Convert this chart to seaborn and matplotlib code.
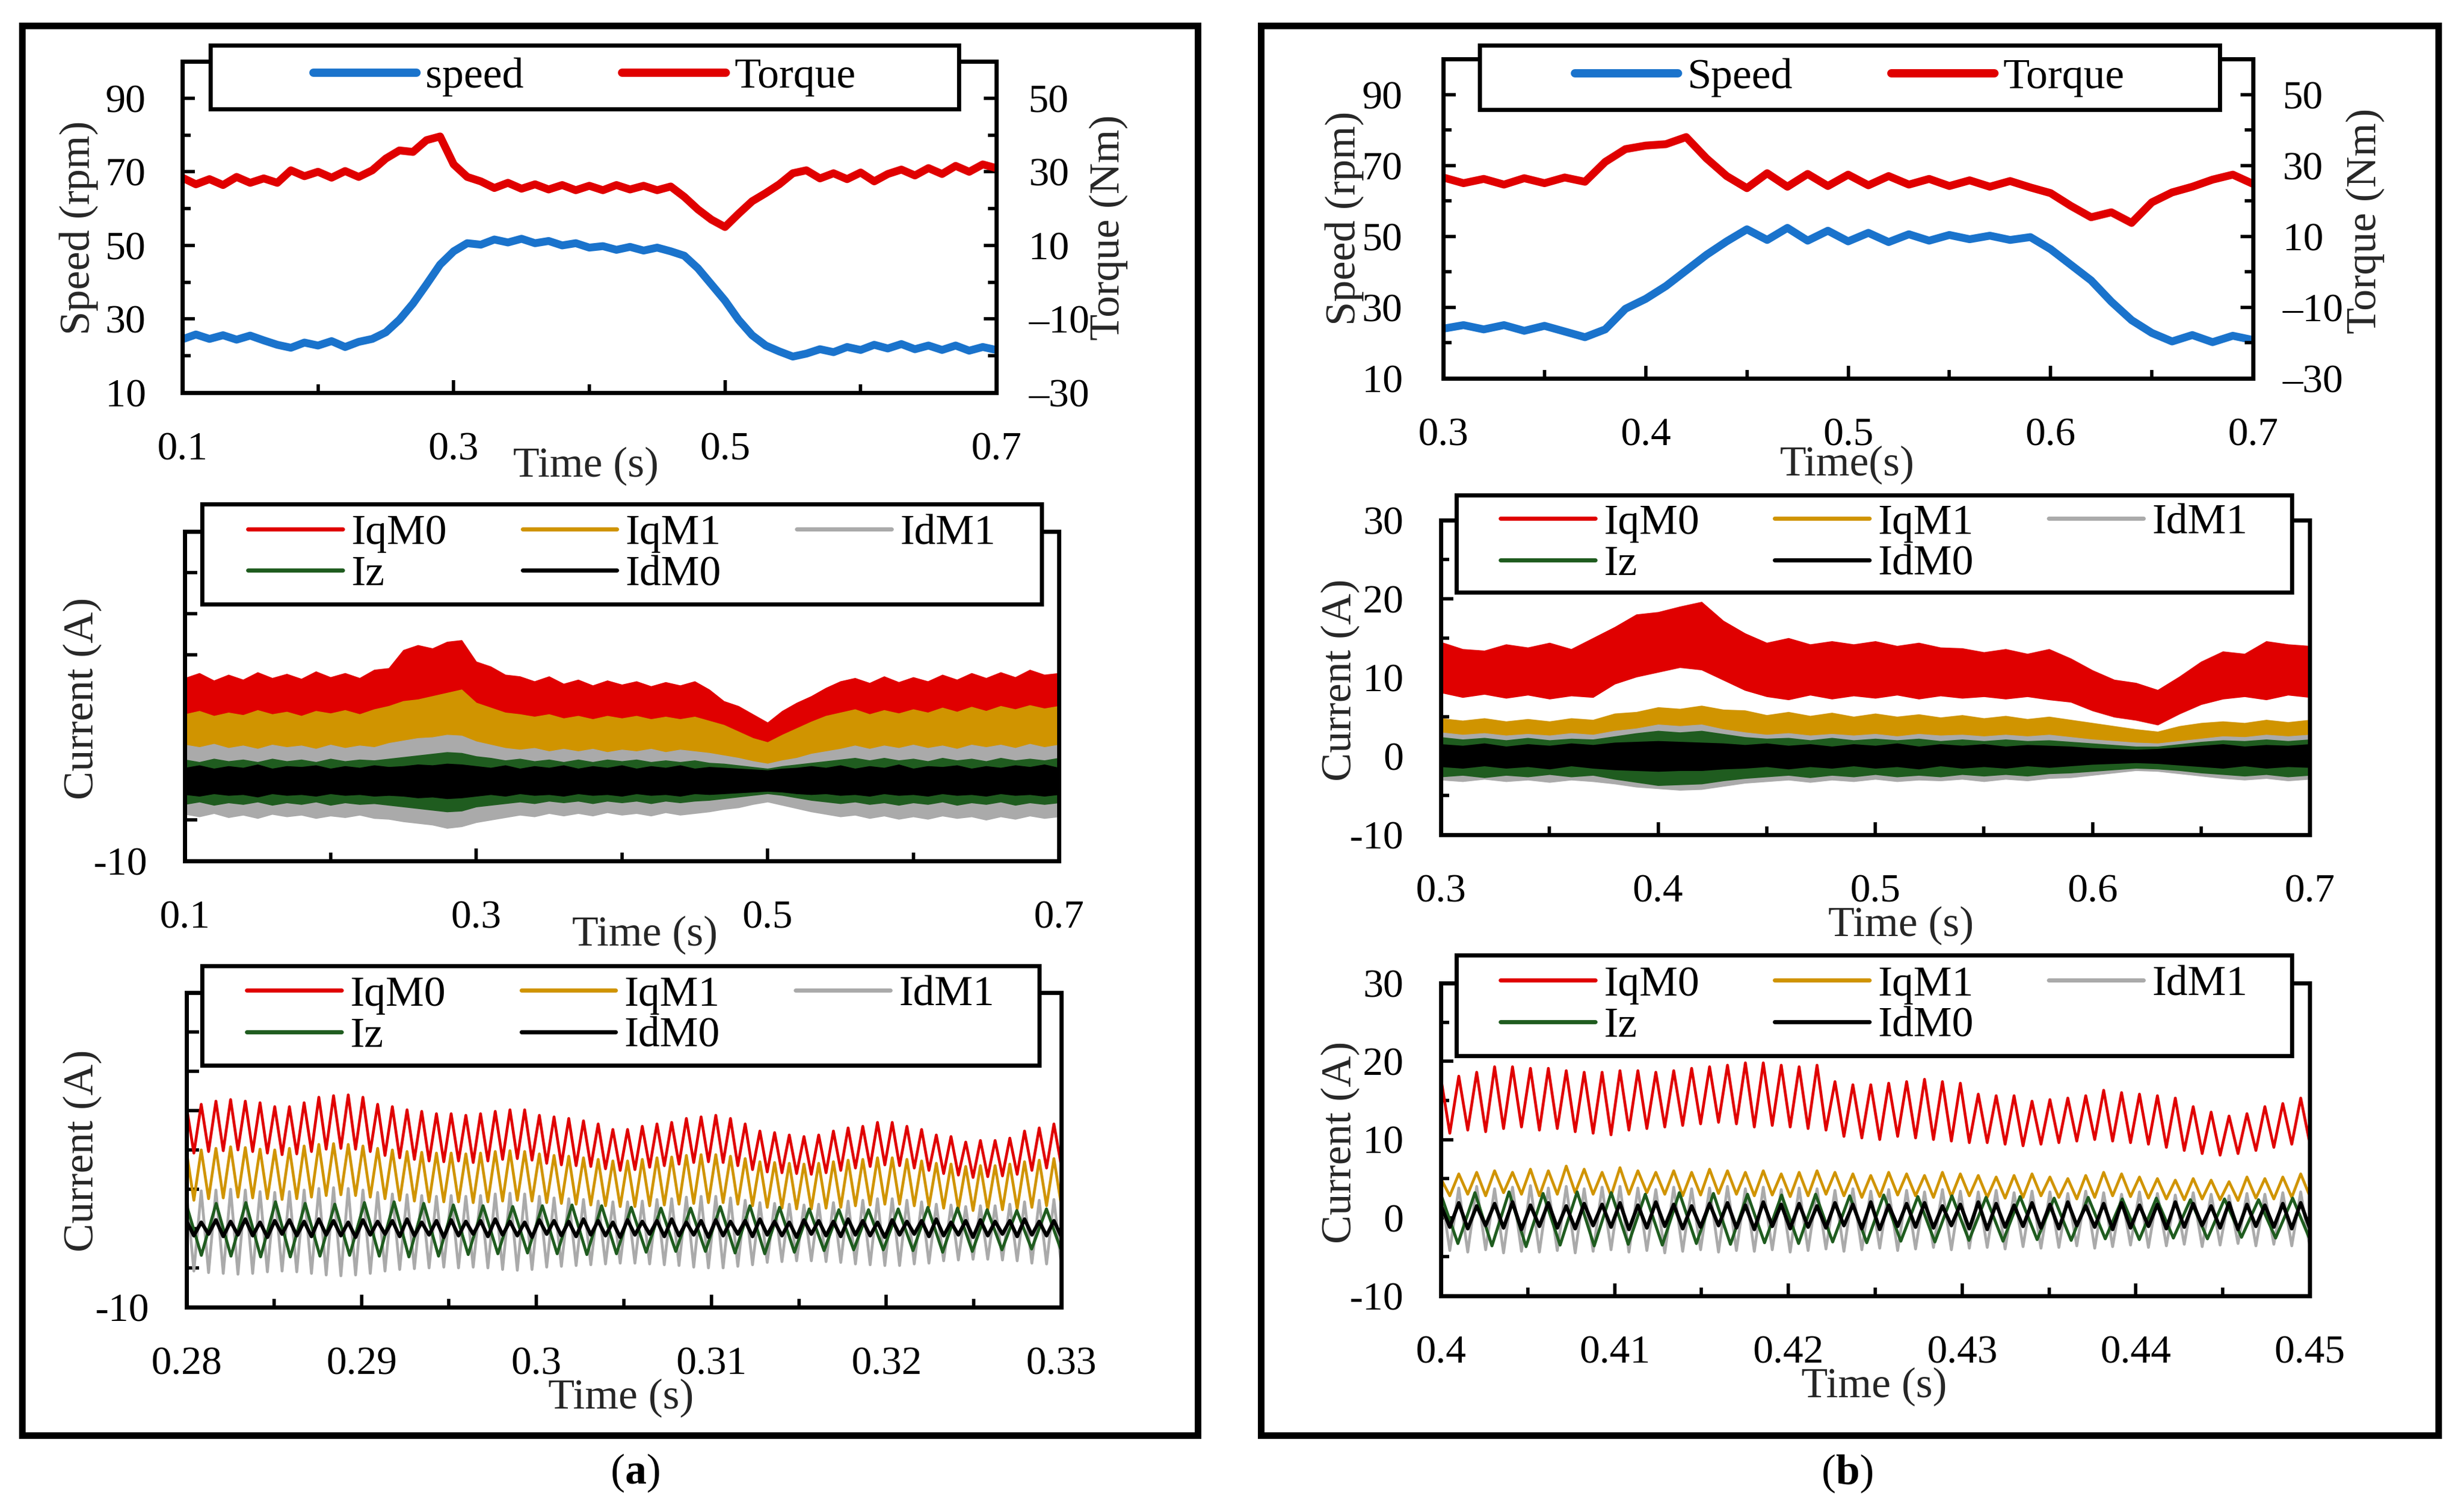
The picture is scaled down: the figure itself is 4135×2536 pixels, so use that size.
#!/usr/bin/env python3
"""
Speed / torque and current waveforms for two operating cases, (a) and (b).
"""

import numpy as np
import matplotlib
matplotlib.use("Agg")
import matplotlib.pyplot as plt
import seaborn as sns
from matplotlib.lines import Line2D
from matplotlib.patches import Rectangle

# ---------------------------------------------------------------- data
# top panels, sampled every 0.01 s
T_A = np.linspace(0.10, 0.70, 61)
T_B = np.linspace(0.30, 0.70, 41)

speed_a = [24.5, 25.8, 24.6, 25.6, 24.4, 25.5, 24.2, 23.0, 22.2, 23.6,
           22.8, 24.0, 22.4, 23.8, 24.6, 26.4, 29.8, 34.2, 39.4, 44.8,
           48.4, 50.6, 50.2, 51.6, 50.8, 51.8, 50.6, 51.2, 50.0, 50.6,
           49.4, 49.8, 48.8, 49.6, 48.6, 49.4, 48.4, 47.2, 43.8, 39.4,
           35.0, 29.8, 25.6, 22.8, 21.2, 19.8, 20.6, 21.8, 21.0, 22.4,
           21.6, 23.0, 22.0, 23.2, 21.8, 22.8, 21.6, 22.8, 21.4, 22.4,
           21.6]
torque_a = [28.4, 26.6, 28.0, 26.4, 28.6, 27.0, 28.2, 27.0, 30.4, 28.8,
            30.0, 28.4, 30.2, 28.6, 30.4, 33.6, 35.8, 35.4, 38.6, 39.6,
            32.0, 28.6, 27.4, 25.6, 27.0, 25.4, 26.6, 25.2, 26.4, 25.0,
            26.2, 25.0, 26.4, 25.2, 26.2, 25.0, 26.0, 23.2, 19.8, 17.0,
            15.0, 18.6, 22.0, 24.2, 26.6, 29.6, 30.4, 28.2, 29.6, 28.0,
            29.8, 27.4, 29.4, 30.6, 29.0, 31.0, 29.4, 31.6, 30.0, 32.0,
            31.0]
speed_b = [24.0, 25.0, 23.8, 25.0, 23.4, 24.8, 23.2, 21.6, 23.8, 29.6,
           32.4, 36.0, 40.4, 44.8, 48.6, 52.0, 49.0, 52.4, 48.8, 51.6,
           48.6, 51.0, 48.4, 50.6, 48.8, 50.4, 49.2, 50.2, 49.0, 49.8,
           46.4, 42.0, 37.6, 31.6, 26.4, 22.8, 20.4, 22.2, 20.2, 22.0,
           20.8]
torque_b = [26.6, 25.0, 26.2, 24.6, 26.4, 25.0, 26.6, 25.4, 31.0, 34.6,
            35.6, 36.0, 38.0, 32.0, 27.0, 23.6, 27.8, 24.0, 27.6, 24.2,
            27.4, 24.4, 27.0, 24.6, 26.2, 24.2, 25.8, 24.0, 25.6, 23.8,
            22.2, 18.6, 15.4, 16.8, 13.8, 19.6, 22.4, 24.0, 26.0, 27.4,
            24.8]

# middle panels: envelopes (upper / lower) of the fast current ripple
iqm0_up_a = [12.2, 12.8, 11.9, 12.6, 12.0, 12.9, 12.2, 12.7, 12.1, 13.0,
             12.3, 12.8, 12.2, 13.2, 13.4, 15.6, 16.2, 15.8, 16.6, 16.8,
             14.2, 13.6, 12.6, 12.4, 11.8, 12.4, 11.5, 12.0, 11.3, 11.9,
             11.4, 11.8, 11.2, 11.7, 11.3, 11.8, 10.8, 9.4, 8.8, 7.8,
             6.8, 8.2, 9.2, 10.0, 11.0, 11.8, 12.2, 11.6, 12.4, 11.7,
             12.3, 11.8, 12.6, 12.0, 12.8, 12.2, 12.9, 12.3, 13.2, 12.6,
             12.8]
iqm1_up_a = [7.8, 8.2, 7.6, 8.0, 7.7, 8.3, 7.8, 8.1, 7.6, 8.2,
             7.9, 8.3, 7.8, 8.4, 8.8, 9.4, 9.6, 10.0, 10.4, 10.8,
             9.2, 8.6, 8.0, 7.8, 7.5, 7.8, 7.3, 7.6, 7.2, 7.6,
             7.3, 7.6, 7.2, 7.5, 7.2, 7.5, 7.0, 6.5, 5.7, 4.9,
             4.4, 5.3, 6.1, 6.9, 7.6, 8.0, 8.4, 7.8, 8.3, 7.9,
             8.4, 8.0, 8.6, 8.1, 8.7, 8.2, 8.8, 8.4, 8.9, 8.5,
             8.8]
idm1_up_a = [4.1, 3.8, 4.2, 3.7, 4.0, 3.6, 4.1, 3.8, 4.0, 3.6,
             4.1, 3.7, 4.0, 3.8, 4.3, 4.6, 4.9, 5.0, 5.3, 5.2,
             4.5, 4.1, 3.7, 3.5, 3.7, 3.3, 3.6, 3.3, 3.6, 3.2,
             3.5, 3.3, 3.6, 3.2, 3.5, 3.3, 3.1, 2.8, 2.5, 2.1,
             1.8, 2.2, 2.5, 3.0, 3.3, 3.6, 4.0, 3.6, 4.0, 3.7,
             4.1, 3.7, 4.0, 3.6, 4.1, 3.8, 4.1, 3.7, 4.2, 3.8,
             4.1]
idm1_lo_a = [-4.3, -4.6, -4.2, -4.7, -4.4, -4.8, -4.3, -4.6, -4.4, -4.8,
             -4.5, -4.7, -4.4, -4.8, -4.9, -5.2, -5.4, -5.6, -6.0, -5.8,
             -5.3, -5.0, -4.7, -4.4, -4.6, -4.2, -4.5, -4.2, -4.5, -4.1,
             -4.4, -4.2, -4.5, -4.1, -4.4, -4.2, -4.0, -3.7, -3.5, -3.1,
             -2.8, -3.2, -3.6, -4.0, -4.3, -4.6, -4.4, -4.8, -4.5, -4.9,
             -4.6, -4.9, -4.5, -4.8, -4.6, -5.0, -4.6, -4.9, -4.5, -4.8,
             -4.6]
iz_up_a = [2.3, 2.0, 2.4, 2.1, 2.3, 2.0, 2.4, 2.1, 2.3, 2.0,
           2.4, 2.1, 2.3, 2.2, 2.4, 2.6, 2.8, 3.0, 3.2, 3.1,
           2.7, 2.5, 2.2, 2.4, 2.1, 2.3, 2.0, 2.3, 2.0, 2.3,
           2.1, 2.3, 2.0, 2.2, 2.0, 2.2, 1.9, 1.8, 1.6, 1.4,
           1.2, 1.5, 1.7, 1.9, 2.1, 2.3, 2.5, 2.2, 2.5, 2.2,
           2.4, 2.1, 2.5, 2.2, 2.4, 2.1, 2.5, 2.2, 2.4, 2.2,
           2.5]
iz_lo_a = [-3.1, -2.8, -3.2, -2.9, -3.1, -2.8, -3.2, -2.9, -3.1, -2.8,
           -3.2, -2.9, -3.1, -3.0, -3.2, -3.4, -3.6, -3.8, -4.0, -3.9,
           -3.4, -3.2, -3.0, -2.8, -3.0, -2.7, -2.9, -2.7, -3.0, -2.7,
           -2.9, -2.7, -3.0, -2.7, -2.9, -2.7, -2.6, -2.4, -2.2, -2.0,
           -1.8, -2.0, -2.3, -2.6, -2.8, -3.0, -2.8, -3.1, -2.9, -3.2,
           -2.9, -3.1, -2.8, -3.2, -2.9, -3.1, -2.8, -3.2, -2.9, -3.1,
           -2.9]
idm0_up_a = [1.3, 1.6, 1.2, 1.5, 1.3, 1.7, 1.2, 1.5, 1.4, 1.6,
             1.2, 1.5, 1.3, 1.6, 1.4, 1.5, 1.7, 1.6, 1.8, 1.7,
             1.5, 1.3, 1.6, 1.2, 1.5, 1.3, 1.6, 1.2, 1.5, 1.3,
             1.6, 1.2, 1.5, 1.3, 1.6, 1.2, 1.4, 1.3, 1.2, 1.1,
             1.0, 1.2, 1.3, 1.5, 1.3, 1.6, 1.2, 1.5, 1.3, 1.7,
             1.2, 1.5, 1.4, 1.6, 1.2, 1.5, 1.3, 1.6, 1.4, 1.7,
             1.3]
idm0_lo_a = [-1.9, -2.1, -1.8, -2.0, -1.9, -2.2, -1.8, -2.0, -1.9, -2.1,
             -1.8, -2.0, -1.9, -2.1, -2.0, -2.1, -2.3, -2.2, -2.4, -2.3,
             -2.1, -1.9, -2.1, -1.8, -2.0, -1.9, -2.1, -1.8, -2.0, -1.9,
             -2.1, -1.8, -2.0, -1.9, -2.1, -1.8, -1.9, -1.8, -1.7, -1.6,
             -1.5, -1.6, -1.8, -1.9, -1.8, -2.0, -1.9, -2.1, -1.8, -2.0,
             -1.9, -2.1, -1.8, -2.0, -1.9, -2.1, -1.8, -2.0, -1.9, -2.1,
             -1.9]

iqm0_up_b = [14.5, 13.6, 13.4, 14.2, 13.8, 14.4, 13.6, 15.0, 16.4, 18.0,
             18.3, 19.0, 19.6, 17.2, 15.6, 14.4, 15.0, 14.2, 14.6, 14.2,
             14.6, 14.0, 14.4, 13.8, 13.7, 13.2, 13.6, 13.0, 13.6, 12.4,
             10.9, 9.7, 9.3, 8.4, 10.1, 12.0, 13.3, 13.0, 14.6, 14.2,
             14.0]
iqm0_lo_b = [8.1, 7.5, 7.9, 7.4, 7.8, 7.3, 7.7, 7.5, 9.2, 10.1,
             10.7, 11.3, 11.0, 9.7, 8.4, 7.6, 7.2, 7.8, 7.3, 7.7,
             7.4, 7.8, 7.3, 7.7, 7.4, 7.6, 7.3, 7.6, 7.2, 6.9,
             5.8, 5.0, 4.6, 4.0, 5.4, 6.6, 7.3, 7.6, 7.2, 7.8,
             7.5]
iqm1_up_b = [4.8, 4.5, 4.8, 4.4, 4.7, 4.4, 4.8, 4.6, 5.4, 5.6,
             6.2, 6.0, 6.4, 5.9, 5.8, 5.2, 5.6, 5.1, 5.5, 5.0,
             5.4, 5.0, 5.3, 4.9, 5.2, 4.8, 5.1, 4.7, 5.0, 4.6,
             4.2, 3.8, 3.4, 3.1, 3.8, 4.2, 4.4, 4.2, 4.6, 4.3,
             4.6]
idm1_up_b = [3.0, 2.7, 2.9, 2.6, 2.8, 2.6, 2.9, 2.7, 3.2, 3.5,
             4.0, 3.8, 4.0, 3.4, 3.0, 2.7, 2.9, 2.6, 2.8, 2.6,
             2.8, 2.5, 2.8, 2.6, 2.7, 2.5, 2.7, 2.5, 2.7, 2.4,
             2.1, 1.9, 1.7, 1.6, 1.9, 2.2, 2.5, 2.4, 2.7, 2.5,
             2.7]
idm1_lo_b = [-3.0, -3.2, -2.9, -3.2, -3.0, -3.3, -3.0, -3.2, -3.5, -3.9,
             -4.1, -4.3, -4.2, -3.8, -3.4, -3.2, -3.0, -3.3, -3.0, -3.2,
             -2.9, -3.2, -3.0, -3.1, -2.9, -3.2, -2.9, -3.1, -2.8, -2.7,
             -2.4, -2.1, -1.8, -1.9, -2.2, -2.5, -2.8, -3.0, -2.8, -3.1,
             -2.9]
iz_up_b = [2.4, 2.1, 2.3, 2.0, 2.3, 2.0, 2.2, 2.1, 2.5, 2.9,
           3.2, 3.0, 3.2, 2.8, 2.4, 2.2, 2.3, 2.0, 2.3, 2.0,
           2.2, 2.0, 2.2, 1.9, 2.1, 1.9, 2.1, 1.9, 2.0, 1.8,
           1.6, 1.4, 1.2, 1.2, 1.5, 1.8, 2.0, 1.9, 2.1, 1.9,
           2.1]
iz_lo_b = [-2.6, -2.4, -2.7, -2.4, -2.6, -2.3, -2.6, -2.4, -2.9, -3.3,
           -3.7, -3.6, -3.5, -3.1, -2.8, -2.6, -2.4, -2.7, -2.4, -2.6,
           -2.3, -2.6, -2.4, -2.6, -2.3, -2.5, -2.3, -2.5, -2.2, -2.1,
           -1.9, -1.7, -1.5, -1.6, -1.8, -2.1, -2.3, -2.5, -2.3, -2.6,
           -2.4]
idm0_up_b = [1.5, 1.3, 1.6, 1.2, 1.5, 1.3, 1.6, 1.4, 1.7, 1.8,
             1.9, 1.8, 1.7, 1.6, 1.4, 1.6, 1.3, 1.5, 1.2, 1.5,
             1.3, 1.6, 1.2, 1.5, 1.3, 1.5, 1.2, 1.4, 1.3, 1.2,
             1.0, 0.9, 0.8, 0.9, 1.1, 1.3, 1.5, 1.2, 1.4, 1.3,
             1.5]
idm0_lo_b = [-1.3, -1.5, -1.2, -1.5, -1.3, -1.6, -1.2, -1.5, -1.7, -1.8,
             -1.9, -1.8, -1.8, -1.6, -1.5, -1.3, -1.6, -1.3, -1.5, -1.2,
             -1.5, -1.3, -1.6, -1.2, -1.5, -1.3, -1.5, -1.2, -1.4, -1.2,
             -1.0, -0.9, -0.8, -0.9, -1.1, -1.3, -1.5, -1.2, -1.5, -1.3,
             -1.4]

# bottom panels: peak and trough of every ripple cycle
pk_iqm0_a = [15.5, 15.8, 16.2, 16.4, 16.2, 16.0, 15.5, 15.5, 16.0, 16.7,
             16.9, 17.0, 16.7, 15.8, 15.5, 15.1, 14.9, 14.6, 14.6, 14.4,
             14.6, 14.9, 15.1, 15.1, 14.4, 14.2, 14.0, 13.7, 13.3, 12.6,
             12.6, 13.0, 13.3, 13.5, 14.0, 14.2, 14.4, 14.0, 13.3, 12.4,
             12.2, 11.9, 11.7, 11.9, 12.4, 12.8, 13.0, 13.5, 13.5, 13.0,
             12.6, 11.9, 11.7, 11.0, 11.2, 11.2, 11.5, 12.4, 12.8, 13.3]
tr_iqm0_a = [9.6, 9.8, 9.9, 10.0, 9.8, 9.6, 9.4, 9.5, 9.8, 10.1,
             10.2, 10.1, 9.8, 9.3, 9.0, 8.8, 8.6, 8.5, 8.6, 8.4,
             8.6, 8.8, 8.9, 8.7, 8.3, 8.1, 8.0, 7.9, 7.6, 7.4,
             7.5, 7.8, 8.0, 8.2, 8.4, 8.5, 8.4, 8.0, 7.5, 7.2,
             7.1, 7.0, 6.9, 7.1, 7.4, 7.7, 7.9, 8.1, 8.0, 7.7,
             7.4, 7.0, 6.8, 6.5, 6.6, 6.7, 6.9, 7.4, 7.7, 8.0]
pk_iqm1_a = [9.8, 10.0, 10.2, 10.4, 10.3, 10.1, 10.0, 10.2, 10.5, 10.7,
             10.8, 10.7, 10.5, 10.2, 10.0, 9.8, 9.7, 9.6, 9.6, 9.5,
             9.6, 9.8, 9.9, 9.8, 9.5, 9.3, 9.2, 9.0, 8.8, 8.6,
             8.6, 8.8, 9.0, 9.1, 9.3, 9.4, 9.4, 9.2, 8.9, 8.5,
             8.4, 8.3, 8.2, 8.3, 8.5, 8.7, 8.8, 9.0, 9.0, 8.8,
             8.6, 8.3, 8.2, 7.9, 8.0, 8.0, 8.2, 8.5, 8.7, 8.9]
tr_iqm1_a = [3.6, 3.8, 3.9, 4.0, 3.9, 3.8, 3.7, 3.8, 4.0, 4.2,
             4.3, 4.2, 4.0, 3.8, 3.6, 3.5, 3.4, 3.4, 3.4, 3.3,
             3.4, 3.5, 3.6, 3.5, 3.3, 3.2, 3.1, 3.0, 2.9, 2.8,
             2.8, 2.9, 3.0, 3.1, 3.2, 3.3, 3.3, 3.1, 2.9, 2.7,
             2.6, 2.5, 2.5, 2.6, 2.7, 2.9, 3.0, 3.1, 3.1, 2.9,
             2.8, 2.6, 2.5, 2.3, 2.4, 2.4, 2.5, 2.7, 2.9, 3.0]
pk_idm1_a = [4.6, 4.8, 4.9, 5.0, 4.9, 4.7, 4.6, 4.7, 4.9, 5.1,
             5.2, 5.1, 4.9, 4.6, 4.4, 4.3, 4.2, 4.1, 4.2, 4.1,
             4.2, 4.4, 4.5, 4.4, 4.1, 3.9, 3.8, 3.7, 3.5, 3.4,
             3.4, 3.5, 3.7, 3.8, 4.0, 4.1, 4.1, 3.9, 3.6, 3.3,
             3.2, 3.1, 3.0, 3.1, 3.3, 3.5, 3.6, 3.8, 3.8, 3.6,
             3.4, 3.1, 3.0, 2.8, 2.9, 2.9, 3.1, 3.4, 3.6, 3.7]
tr_idm1_a = [-5.4, -5.6, -5.7, -5.8, -5.7, -5.5, -5.4, -5.5, -5.7, -5.9,
             -6.0, -5.9, -5.7, -5.4, -5.2, -5.1, -5.0, -4.9, -5.0, -4.9,
             -5.0, -5.2, -5.3, -5.2, -4.9, -4.8, -4.7, -4.6, -4.5, -4.4,
             -4.4, -4.5, -4.6, -4.7, -4.9, -5.0, -5.0, -4.8, -4.6, -4.3,
             -4.2, -4.1, -4.1, -4.2, -4.3, -4.5, -4.6, -4.7, -4.7, -4.5,
             -4.4, -4.1, -4.0, -3.9, -3.9, -4.0, -4.1, -4.4, -4.5, -4.6]
pk_iz_a = [3.0, 3.2, 3.3, 3.4, 3.2, 3.1, 3.3, 3.4, 3.2, 3.0,
           2.9, 2.8, 2.9, 3.0, 2.9, 2.7, 2.6, 2.6, 2.8, 2.9,
           2.7, 2.5, 2.4, 2.4, 2.5, 2.7, 2.6, 2.4, 2.3, 2.5]
tr_iz_a = [-3.4, -3.5, -3.6, -3.6, -3.5, -3.4, -3.5, -3.6, -3.5, -3.3,
           -3.2, -3.1, -3.2, -3.3, -3.2, -3.0, -2.9, -2.9, -3.1, -3.2,
           -3.0, -2.8, -2.7, -2.7, -2.8, -3.0, -2.9, -2.7, -2.6, -2.8]
pk_idm0_a = [1.0, 0.8, 1.1, 0.9, 1.2, 0.8, 1.0, 1.1, 0.9, 1.2,
             1.0, 0.8, 1.1, 0.9, 1.0, 1.2, 0.8, 1.0, 1.1, 0.9,
             1.0, 1.2, 0.9, 0.8, 1.1, 1.0, 0.9, 1.2, 1.0, 0.8,
             1.1, 0.9, 1.0, 1.2, 0.8, 1.0, 1.1, 0.9, 1.0, 1.2,
             0.9, 0.8, 1.1, 1.0, 0.9, 1.2, 1.0, 0.8, 1.1, 0.9,
             1.0, 1.2, 0.8, 1.0, 1.1, 0.9, 1.0, 1.2, 0.9, 1.0]
tr_idm0_a = [-0.9, -0.7, -1.0, -0.8, -0.9, -1.1, -0.7, -0.9, -1.0, -0.8,
             -0.9, -1.1, -0.8, -0.7, -1.0, -0.9, -0.8, -1.1, -0.9, -0.7,
             -1.0, -0.8, -0.9, -1.1, -0.7, -0.9, -1.0, -0.8, -0.9, -1.1,
             -0.8, -0.7, -1.0, -0.9, -0.8, -1.1, -0.9, -0.7, -1.0, -0.8,
             -0.9, -1.1, -0.7, -0.9, -1.0, -0.8, -0.9, -1.1, -0.8, -0.7,
             -1.0, -0.9, -0.8, -1.1, -0.9, -0.7, -1.0, -0.8, -0.9, -1.0]

pk_iqm0_b = [17.9, 18.1, 18.6, 19.3, 19.3, 19.1, 19.1, 18.8, 18.6, 18.6,
             18.8, 18.8, 18.6, 18.8, 19.1, 19.3, 19.5, 19.8, 19.8, 19.5,
             19.3, 19.5, 17.4, 17.0, 17.0, 17.2, 17.4, 17.7, 17.4, 17.2,
             15.8, 15.6, 15.6, 14.9, 15.1, 15.3, 15.6, 16.3, 16.0, 15.8,
             15.6, 15.3, 14.2, 13.5, 13.0, 13.3, 14.2, 14.6, 15.3]
tr_iqm0_b = [10.8, 11.2, 11.0, 11.4, 11.6, 11.2, 11.4, 11.0, 10.8, 10.6,
             11.2, 11.4, 11.6, 11.8, 12.0, 12.2, 12.0, 11.6, 11.8, 11.6,
             11.4, 11.2, 10.4, 10.2, 10.0, 10.4, 10.2, 10.0, 9.8, 9.6,
             9.6, 9.4, 9.2, 9.4, 9.6, 9.8, 10.0, 9.8, 9.6, 9.4,
             9.0, 8.6, 8.2, 8.0, 8.2, 8.6, 9.0, 9.4, 9.6]
pk_iqm1_b = [5.0, 5.6, 5.8, 6.0, 5.8, 6.2, 6.0, 6.6, 6.2, 5.8,
             6.4, 6.0, 5.8, 6.0, 5.8, 6.2, 6.0, 5.8, 6.0, 5.6,
             5.8, 6.0, 5.8, 5.6, 5.4, 5.8, 5.6, 5.4, 5.8, 5.6,
             5.4, 5.2, 5.4, 5.6, 5.2, 5.0, 5.4, 5.8, 5.6, 5.2,
             5.0, 4.8, 5.0, 4.8, 4.6, 5.2, 5.0, 5.2, 5.6]
tr_iqm1_b = [2.8, 3.0, 2.8, 3.2, 3.0, 2.8, 3.0, 3.2, 3.0, 2.8,
             3.0, 3.2, 3.0, 2.8, 2.9, 3.1, 3.0, 2.8, 2.9, 2.7,
             2.8, 3.0, 2.8, 2.6, 2.7, 2.9, 2.8, 2.6, 2.7, 2.8,
             2.6, 2.5, 2.6, 2.8, 2.6, 2.4, 2.6, 2.8, 2.7, 2.5,
             2.4, 2.3, 2.4, 2.3, 2.2, 2.5, 2.4, 2.6, 2.8]
pk_idm1_b = [3.6, 3.8, 4.0, 3.7, 3.9, 4.1, 3.8, 4.0, 3.7, 3.9,
             4.0, 3.8, 3.6, 3.9, 3.7, 3.8, 4.0, 3.7, 3.9, 3.6,
             3.8, 3.7, 3.5, 3.7, 3.4, 3.6, 3.5, 3.3, 3.6, 3.4,
             3.3, 3.5, 3.2, 3.4, 3.3, 3.1, 3.4, 3.2, 3.0, 3.3,
             3.1, 2.9, 3.2, 3.0, 2.8, 3.1, 3.0, 3.2, 3.3]
tr_idm1_b = [-4.2, -4.4, -4.1, -4.5, -4.3, -4.4, -4.2, -4.5, -4.3, -4.1,
             -4.4, -4.2, -4.5, -4.3, -4.1, -4.4, -4.2, -4.3, -4.1, -4.4,
             -4.2, -4.0, -4.3, -4.1, -3.9, -4.2, -4.0, -3.8, -4.1, -3.9,
             -3.8, -4.0, -3.7, -3.9, -3.8, -3.6, -3.9, -3.7, -3.5, -3.8,
             -3.6, -3.4, -3.7, -3.5, -3.3, -3.6, -3.4, -3.6, -3.7]
pk_iz_b = [3.0, 3.2, 3.3, 3.1, 3.3, 3.2, 3.0, 3.2, 3.1, 3.0,
           2.9, 3.0, 2.8, 2.9, 2.7, 2.8, 2.6, 2.7, 2.5, 2.6,
           2.4, 2.5, 2.3, 2.4, 2.3, 2.5]
tr_iz_b = [-3.3, -3.6, -3.7, -3.5, -3.6, -3.4, -3.5, -3.3, -3.4, -3.2,
           -3.3, -3.1, -3.2, -3.0, -3.1, -2.9, -3.0, -2.8, -2.9, -2.7,
           -2.8, -2.6, -2.7, -2.5, -2.6, -2.7]
pk_idm0_b = [1.6, 1.9, 1.5, 1.8, 2.0, 1.6, 1.9, 1.5, 1.8, 1.7,
             1.9, 1.6, 2.0, 1.7, 1.5, 1.8, 1.9, 1.6, 2.0, 1.7,
             1.8, 1.5, 1.9, 1.7, 2.0, 1.6, 1.8, 1.9, 1.5, 1.7,
             2.0, 1.8, 1.6, 1.9, 1.7, 2.0, 1.5, 1.8, 1.9, 1.6,
             1.7, 2.0, 1.8, 1.5, 1.9, 1.7, 1.6, 1.8, 1.9]
tr_idm0_b = [-1.2, -1.4, -1.0, -1.3, -1.5, -1.1, -1.3, -1.4, -1.0, -1.2,
             -1.5, -1.3, -1.1, -1.4, -1.2, -1.0, -1.3, -1.5, -1.1, -1.4,
             -1.2, -1.3, -1.0, -1.4, -1.5, -1.1, -1.2, -1.3, -1.0, -1.4,
             -1.5, -1.2, -1.1, -1.3, -1.4, -1.0, -1.2, -1.5, -1.3, -1.1,
             -1.4, -1.2, -1.0, -1.3, -1.5, -1.1, -1.2, -1.4, -1.3]

LEG_TOP_A = ['speed', 'Torque']
LEG_TOP_B = ['Speed', 'Torque']
CURRENT_NAMES = ['IqM0', 'IqM1', 'IdM1', 'Iz', 'IdM0']

# ---------------------------------------------------------------- style
RED, GOLD, GRAY, GREEN, BLACK, BLUE = '#E00000', '#D09400', '#AAAAAA', '#1F5C1F', '#000000', '#1A73CC'
CUR_COLORS = [RED, GOLD, GRAY, GREEN, BLACK]
CUR_LW = [3.4, 3.4, 3.4, 3.6, 4.4]
FS_TICK = 49
FS_TEXT = 52
W, H = 4135, 2536

sns.set_theme(style="ticks")
plt.rcParams['font.family'] = ['Liberation Serif', 'DejaVu Serif']
plt.rcParams['mathtext.fontset'] = 'custom'
plt.rcParams['mathtext.rm'] = 'Liberation Serif'
plt.rcParams['mathtext.bf'] = 'Liberation Serif:bold'
plt.rcParams['text.color'] = 'black'

fig = plt.figure(figsize=(W / 100, H / 100), dpi=100)
fig.patch.set_facecolor('white')


def px_rect(x0, y0, x1, y1):
    return [x0 / W, 1 - y1 / H, (x1 - x0) / W, (y1 - y0) / H]


def style_axes(ax, xpad=47, ypad=45):
    for sp in ax.spines.values():
        sp.set_linewidth(5)
        sp.set_color('black')
    ax.tick_params(which='both', direction='in', color='black', width=4,
                   labelsize=FS_TICK, labelcolor='black')
    ax.tick_params(which='major', length=15)
    ax.tick_params(which='minor', length=10)
    ax.tick_params(axis='x', which='both', top=False, pad=xpad)
    ax.tick_params(axis='y', which='both', right=False, pad=ypad)


def set_xticks(ax, lo, hi, major, labels, minor):
    ax.set_xlim(lo, hi)
    ax.set_xticks(major)
    ax.set_xticklabels(labels)
    ax.set_xticks(minor, minor=True)


def put_xlabel(ax, text, px, py):
    ax.set_xlabel(text, fontsize=FS_TEXT)
    ax.xaxis.set_label_coords(px / W, 1 - py / H, transform=fig.transFigure)
    ax.xaxis.label.set_va('center')


def put_ylabel(ax, text, px, py):
    ax.set_ylabel(text, fontsize=FS_TEXT, rotation=90)
    ax.yaxis.set_label_coords(px / W, 1 - py / H, transform=fig.transFigure)
    ax.yaxis.label.set_va('center')
    ax.yaxis.label.set_ha('center')


def boxed_legend(box, handles, labels, ncol, **kw):
    x0, y0, x1, y1 = box
    fig.add_artist(Rectangle((x0 / W, 1 - y1 / H), (x1 - x0) / W, (y1 - y0) / H,
                             transform=fig.transFigure, facecolor='white',
                             edgecolor='black', linewidth=5, zorder=20))
    leg = fig.legend(handles, labels, loc='center',
                     bbox_to_anchor=((x0 + x1) / 2 / W, 1 - (y0 + y1) / 2 / H),
                     bbox_transform=fig.transFigure, ncol=ncol, frameon=False,
                     fontsize=FS_TEXT, handletextpad=0.2, borderaxespad=0, **kw)
    leg.set_zorder(21)


def wave(peaks, troughs, lo, hi):
    y = np.empty(2 * len(peaks))
    y[0::2] = peaks
    y[1::2] = troughs
    return np.linspace(lo, hi, y.size), y


def current_legend(box):
    hs = [Line2D([0], [0], color=c, lw=5) for c in CUR_COLORS]
    order = [0, 3, 1, 4, 2]   # fill row by row: IqM0 IqM1 IdM1 / Iz IdM0
    boxed_legend(box, [hs[i] for i in order], [CURRENT_NAMES[i] for i in order], 3,
                 handlelength=2.2, columnspacing=1.75, labelspacing=0.05)


# ---------------------------------------------------------------- top panels
def speed_torque(rect, t, spd, trq, names, xt, xlab, lab_pos, ypads, leg_box):
    ax = fig.add_axes(px_rect(*rect))
    sns.lineplot(x=t, y=spd, ax=ax, color=BLUE, linewidth=9.5, estimator=None, legend=False)
    ax.set_ylim(10, 100)
    ax.set_yticks([10, 30, 50, 70, 90])
    ax.set_yticks([20, 40, 60, 80], minor=True)
    style_axes(ax, ypad=ypads[0])
    set_xticks(ax, *xt)
    ax2 = ax.twinx()
    sns.lineplot(x=t, y=trq, ax=ax2, color=RED, linewidth=9.5, estimator=None, legend=False)
    ax2.set_ylim(-30, 60)
    ax2.set_yticks([-30, -10, 10, 30, 50])
    ax2.set_yticklabels(['\u201330', '\u201310', '10', '30', '50'])
    ax2.set_yticks([-20, 0, 20, 40], minor=True)
    for sp in ax2.spines.values():
        sp.set_linewidth(5)
        sp.set_color('black')
    ax2.tick_params(which='both', direction='in', color='black', width=4,
                    labelsize=FS_TICK, labelcolor='black', left=False, right=True, pad=ypads[1])
    ax2.tick_params(which='major', length=15)
    ax2.tick_params(which='minor', length=10)
    put_xlabel(ax, xlab, *lab_pos[0])
    put_ylabel(ax, 'Speed (rpm)', *lab_pos[1])
    put_ylabel(ax2, 'Torque (Nm)', *lab_pos[2])
    hs = [Line2D([0], [0], color=BLUE, lw=10), Line2D([0], [0], color=RED, lw=10)]
    boxed_legend(leg_box, hs, names, 2, handlelength=2.4, columnspacing=2.3)


xt_a = (0.1, 0.7, [0.1, 0.3, 0.5, 0.7], ['0.1', '0.3', '0.5', '0.7'], [0.2, 0.4, 0.6])
xt_b = (0.3, 0.7, [0.3, 0.4, 0.5, 0.6, 0.7], ['0.3', '0.4', '0.5', '0.6', '0.7'],
        [0.35, 0.45, 0.55, 0.65])

speed_torque((306, 103, 1672, 659), T_A, speed_a, torque_a, LEG_TOP_A, xt_a, 'Time (s)',
             [(983, 782), (132, 382), (1860, 382)], (44, 39), (353, 76, 1609, 183))
speed_torque((2422, 99, 3781, 635), T_B, speed_b, torque_b, LEG_TOP_B, xt_b, 'Time(s)',
             [(3100, 780), (2256, 366), (3969, 371)], (49, 36), (2483, 76, 3725, 184))


# ---------------------------------------------------------------- middle panels
def band_panel(rect, t, bands, yticks, xt, lab_pos, leg_box):
    ax = fig.add_axes(px_rect(*rect))
    for (lo, hi), c in zip(bands, CUR_COLORS):
        ax.fill_between(t, lo, hi, color=c, linewidth=1.0, edgecolor=c)
    ax.set_ylim(-10, 30)
    ax.set_yticks(yticks[0])
    ax.set_yticklabels(yticks[1])
    ax.set_yticks(yticks[2], minor=True)
    style_axes(ax)
    set_xticks(ax, *xt)
    put_xlabel(ax, 'Time (s)', *lab_pos[0])
    put_ylabel(ax, 'Current (A)', *lab_pos[1])
    current_legend(leg_box)
    return ax


yt_a = (list(range(-10, 31, 5)), ['-10'] + [''] * 8, [])
yt_b = ([-10, 0, 10, 20, 30], ['-10', '0', '10', '20', '30'], [-5, 5, 15, 25])

band_panel((310, 892, 1777, 1445), T_A,
           [(0, iqm0_up_a), (0, iqm1_up_a), (idm1_lo_a, idm1_up_a),
            (iz_lo_a, iz_up_a), (idm0_lo_a, idm0_up_a)],
           yt_a, xt_a, [(1082, 1569), (138, 1172)], (339, 846, 1748, 1014))
band_panel((2418, 873, 3876, 1401), T_B,
           [(iqm0_lo_b, iqm0_up_b), (0, iqm1_up_b), (idm1_lo_b, idm1_up_b),
            (iz_lo_b, iz_up_b), (idm0_lo_b, idm0_up_b)],
           yt_b, xt_b, [(3190, 1553), (2249, 1141)], (2444, 831, 3846, 994))


# ---------------------------------------------------------------- bottom panels
def wave_panel(rect, lo, hi, series, yticks, xt, lab_pos, leg_box):
    ax = fig.add_axes(px_rect(*rect))
    for (pk, tr), c, lw in zip(series, CUR_COLORS, CUR_LW):
        t, y = wave(pk, tr, lo, hi)
        sns.lineplot(x=t, y=y, ax=ax, color=c, linewidth=lw, estimator=None, legend=False)
    ax.set_ylim(-10, 30)
    ax.set_yticks(yticks[0])
    ax.set_yticklabels(yticks[1])
    ax.set_yticks(yticks[2], minor=True)
    style_axes(ax)
    set_xticks(ax, *xt)
    put_xlabel(ax, 'Time (s)', *lab_pos[0])
    put_ylabel(ax, 'Current (A)', *lab_pos[1])
    current_legend(leg_box)


xt_a2 = (0.28, 0.33, [0.28, 0.29, 0.30, 0.31, 0.32, 0.33],
         ['0.28', '0.29', '0.3', '0.31', '0.32', '0.33'],
         [0.285, 0.295, 0.305, 0.315, 0.325])
xt_b2 = (0.40, 0.45, [0.40, 0.41, 0.42, 0.43, 0.44, 0.45],
         ['0.4', '0.41', '0.42', '0.43', '0.44', '0.45'],
         [0.405, 0.415, 0.425, 0.435, 0.445])

wave_panel((313, 1666, 1781, 2194), 0.28, 0.33,
           [(pk_iqm0_a, tr_iqm0_a), (pk_iqm1_a, tr_iqm1_a), (pk_idm1_a, tr_idm1_a),
            (pk_iz_a, tr_iz_a), (pk_idm0_a, tr_idm0_a)],
           yt_a, xt_a2, [(1042, 2346), (138, 1931)], (339, 1621, 1744, 1788))
wave_panel((2418, 1650, 3876, 2175), 0.40, 0.45,
           [(pk_iqm0_b, tr_iqm0_b), (pk_iqm1_b, tr_iqm1_b), (pk_idm1_b, tr_idm1_b),
            (pk_iz_b, tr_iz_b), (pk_idm0_b, tr_idm0_b)],
           yt_b, xt_b2, [(3145, 2327), (2249, 1917)], (2444, 1603, 3846, 1772))

# ---------------------------------------------------------------- frames and captions
for x0, x1 in [(37, 2010), (2116, 4092)]:
    fig.add_artist(Rectangle((x0 / W, 1 - 2409 / H), (x1 - x0) / W, (2409 - 43) / H,
                             transform=fig.transFigure, fill=False,
                             edgecolor='black', linewidth=8, zorder=30))
fig.text(1066 / W, 1 - 2472 / H, r'($\mathbf{a}$)', ha='center', va='center', fontsize=FS_TEXT)
fig.text(3100 / W, 1 - 2473 / H, r'($\mathbf{b}$)', ha='center', va='center', fontsize=FS_TEXT)

fig.savefig('out.png', dpi=100, facecolor='white')
